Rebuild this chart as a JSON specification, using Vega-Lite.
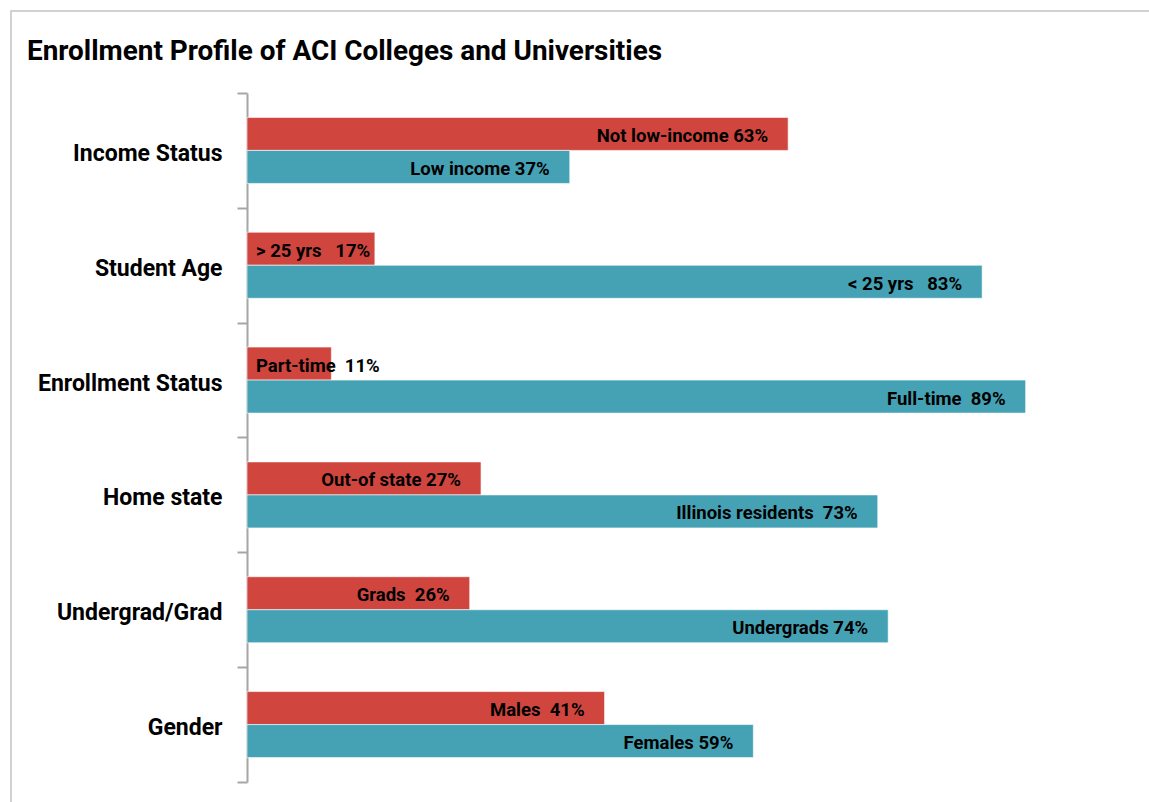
{
  "$schema": "https://vega.github.io/schema/vega-lite/v6.json",
  "width": 1148,
  "height": 801,
  "autosize": {"type": "none"},
  "padding": {"left": 11, "top": 11, "right": 0, "bottom": 0},
  "background": "white",
  "title": {
    "text": "Enrollment Profile of ACI Colleges and Universities",
    "anchor": "start",
    "frame": "group",
    "dx": 16,
    "offset": -66,
    "font": "Roboto, Liberation Sans, sans-serif",
    "fontSize": 27.9,
    "fontWeight": "bold",
    "color": "black"
  },
  "config": {
    "view": {"stroke": "#c4c4c4", "strokeWidth": 1.5},
    "font": "Roboto, Liberation Sans, sans-serif"
  },
  "data": {
    "values": [
      {"category": "Income Status", "series": "A", "value": 62.2, "label": "Not low-income 63%"},
      {"category": "Income Status", "series": "B", "value": 37.1, "label": "Low income 37%"},
      {"category": "Student Age", "series": "A", "value": 14.7, "label": "> 25 yrs\u00a0\u00a0 17%"},
      {"category": "Student Age", "series": "B", "value": 84.5, "label": "< 25 yrs\u00a0\u00a0 83%"},
      {"category": "Enrollment Status", "series": "A", "value": 9.7, "label": "Part-time\u00a0 11%"},
      {"category": "Enrollment Status", "series": "B", "value": 89.5, "label": "Full-time\u00a0 89%"},
      {"category": "Home state", "series": "A", "value": 26.9, "label": "Out-of state 27%"},
      {"category": "Home state", "series": "B", "value": 72.5, "label": "Illinois residents\u00a0 73%"},
      {"category": "Undergrad/Grad", "series": "A", "value": 25.6, "label": "Grads\u00a0 26%"},
      {"category": "Undergrad/Grad", "series": "B", "value": 73.7, "label": "Undergrads 74%"},
      {"category": "Gender", "series": "A", "value": 41.1, "label": "Males\u00a0 41%"},
      {"category": "Gender", "series": "B", "value": 58.2, "label": "Females 59%"}
    ]
  },
  "encoding": {
    "y": {
      "field": "category",
      "type": "nominal",
      "sort": ["Income Status", "Student Age", "Enrollment Status", "Home state", "Undergrad/Grad", "Gender"],
      "scale": {"range": [82, 771], "paddingInner": 0, "paddingOuter": 0},
      "axis": {
        "title": null,
        "offset": -236,
        "tickBand": "extent",
        "domainColor": "#a6a6a6",
        "domainWidth": 2,
        "tickColor": "#a6a6a6",
        "tickWidth": 2,
        "tickSize": 10,
        "labelFontSize": 23,
        "labelFontWeight": "bold",
        "labelColor": "black",
        "labelFont": "Roboto, Liberation Sans, sans-serif",
        "labelPadding": 15,
        "labelOffset": 3,
        "labelLimit": 400,
        "grid": false
      }
    },
    "yOffset": {
      "field": "series",
      "type": "nominal",
      "sort": ["A", "B"],
      "scale": {"paddingInner": 0, "paddingOuter": 0.739}
    }
  },
  "layer": [
    {
      "mark": {"type": "bar", "stroke": "white", "strokeWidth": 1, "strokeOpacity": 0.6},
      "encoding": {
        "x": {
          "field": "value",
          "type": "quantitative",
          "scale": {"domain": [0, 100], "range": [236, 1106], "nice": false},
          "axis": null
        },
        "color": {
          "field": "series",
          "type": "nominal",
          "scale": {"domain": ["A", "B"], "range": ["#D0463F", "#45A2B5"]},
          "legend": null
        }
      }
    },
    {
      "transform": [{"filter": "datum.value >= 20"}],
      "mark": {"type": "text", "align": "right", "baseline": "middle", "dx": -20, "dy": 2, "fontSize": 18.5, "fontWeight": "bold", "color": "black", "font": "Roboto, Liberation Sans, sans-serif"},
      "encoding": {
        "x": {"field": "value", "type": "quantitative"},
        "text": {"field": "label"}
      }
    },
    {
      "transform": [{"filter": "datum.value < 20"}],
      "mark": {"type": "text", "align": "left", "baseline": "middle", "dx": 9, "dy": 2, "fontSize": 18.5, "fontWeight": "bold", "color": "black", "font": "Roboto, Liberation Sans, sans-serif"},
      "encoding": {
        "x": {"datum": 0, "type": "quantitative"},
        "text": {"field": "label"}
      }
    }
  ]
}
